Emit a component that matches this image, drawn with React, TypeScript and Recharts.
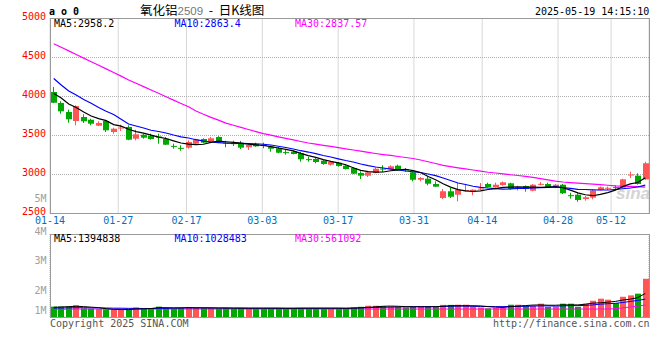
import { Bar, CartesianGrid, ComposedChart, Line, XAxis, YAxis } from "recharts";

// trading days shown, 01-14 .. 05-19
const dates = [
  "01-14", "01-15", "01-16", "01-17", "01-20", "01-21", "01-22", "01-23", "01-24", "01-27",
  "02-05", "02-06", "02-07", "02-10", "02-11", "02-12", "02-13", "02-14", "02-17",
  "02-18", "02-19", "02-20", "02-21", "02-24", "02-25", "02-26", "02-27", "02-28",
  "03-03", "03-04", "03-05", "03-06", "03-07", "03-10", "03-11", "03-12", "03-13", "03-14",
  "03-17", "03-18", "03-19", "03-20", "03-21", "03-24", "03-25", "03-26", "03-27", "03-28",
  "03-31", "04-01", "04-02", "04-03", "04-07", "04-08", "04-09", "04-10", "04-11",
  "04-14", "04-15", "04-16", "04-17", "04-18", "04-21", "04-22", "04-23", "04-24", "04-25",
  "04-28", "04-29", "04-30", "05-06", "05-07", "05-08", "05-09",
  "05-12", "05-13", "05-14", "05-15", "05-16", "05-19",
];

const opens = [
  4058, 3917, 3801, 3686, 3737, 3702, 3626, 3686, 3545, 3598,
  3609, 3459, 3510, 3494, 3487, 3459, 3367, 3342, 3344, 3395,
  3455, 3420, 3481, 3410, 3402, 3400, 3349, 3391, 3380, 3356,
  3336, 3287, 3292, 3272, 3197, 3199, 3177, 3126, 3151, 3113,
  3083, 3019, 2985, 3019, 3076, 3070, 3113, 3066, 3028, 2933,
  2946, 2878, 2699, 2785, 2741, 2790, 2785, 2808, 2878, 2836,
  2865, 2887, 2822, 2853, 2792, 2870, 2878, 2836, 2869, 2735,
  2741, 2686, 2703, 2801, 2825, 2838, 2831, 2995, 2985, 2938,
];

const closes = [
  3920, 3810, 3708, 3878, 3682, 3651, 3660, 3567, 3587, 3602,
  3446, 3515, 3472, 3455, 3480, 3382, 3363, 3338, 3417, 3446,
  3408, 3464, 3420, 3405, 3398, 3344, 3378, 3361, 3376, 3331,
  3279, 3283, 3263, 3195, 3193, 3160, 3135, 3160, 3109, 3070,
  3010, 2985, 3028, 3074, 3072, 3105, 3054, 3050, 2933, 2955,
  2882, 2844, 2785, 2715, 2805, 2800, 2805, 2820, 2840, 2869,
  2900, 2814, 2832, 2814, 2869, 2880, 2840, 2869, 2759, 2731,
  2673, 2708, 2792, 2836, 2830, 2834, 2938, 3000, 2878, 3144,
];

const highs = [
  4122, 3938, 3831, 3887, 3772, 3715, 3682, 3702, 3600, 3638,
  3631, 3574, 3523, 3523, 3523, 3480, 3395, 3374, 3438, 3459,
  3464, 3481, 3490, 3433, 3433, 3430, 3385, 3408, 3408, 3369,
  3356, 3314, 3305, 3292, 3228, 3210, 3185, 3165, 3160, 3120,
  3096, 3041, 3035, 3092, 3118, 3118, 3126, 3083, 3035, 2968,
  2977, 2913, 2814, 2827, 2891, 2878, 2810, 2891, 2895, 2895,
  2910, 2895, 2855, 2860, 2878, 2904, 2895, 2880, 2880, 2765,
  2759, 2725, 2810, 2845, 2845, 2862, 2945, 3036, 3015, 3164,
];

const lows = [
  3915, 3779, 3664, 3631, 3660, 3631, 3620, 3545, 3523, 3558,
  3440, 3438, 3459, 3446, 3395, 3378, 3331, 3305, 3331, 3390,
  3400, 3415, 3410, 3349, 3365, 3327, 3314, 3355, 3336, 3292,
  3272, 3254, 3258, 3164, 3164, 3143, 3125, 3113, 3100, 3065,
  3005, 2942, 2968, 3015, 3032, 3065, 3050, 3035, 2913, 2913,
  2861, 2840, 2686, 2699, 2656, 2780, 2733, 2800, 2835, 2830,
  2855, 2805, 2795, 2780, 2785, 2860, 2835, 2825, 2750, 2690,
  2651, 2665, 2682, 2795, 2800, 2810, 2825, 2955, 2870, 2930,
];

// moving averages (they start before 01-14)
const ma5 = [
  4038, 3981, 3904, 3859, 3800, 3750, 3716, 3690, 3640, 3620,
  3580, 3550, 3530, 3505, 3480, 3462, 3432, 3404, 3390, 3382,
  3388, 3412, 3427, 3420, 3412, 3402, 3390, 3380, 3372, 3358,
  3340, 3322, 3302, 3270, 3243, 3219, 3190, 3168, 3150, 3125,
  3086, 3053, 3036, 3030, 3032, 3048, 3060, 3067, 3050, 3025,
  2975, 2933, 2882, 2838, 2806, 2790, 2782, 2789, 2808, 2820,
  2834, 2838, 2842, 2838, 2840, 2835, 2838, 2842, 2830, 2800,
  2765, 2740, 2728, 2745, 2768, 2800, 2845, 2880, 2897, 2958,
];

const ma10 = [
  4231, 4147, 4070, 4019, 3961, 3913, 3859, 3810, 3769, 3708,
  3647, 3622, 3596, 3567, 3551, 3532, 3506, 3483, 3468, 3446,
  3429, 3417, 3408, 3401, 3400, 3400, 3397, 3394, 3388, 3378,
  3362, 3346, 3327, 3305, 3288, 3267, 3244, 3224, 3201, 3179,
  3160, 3135, 3113, 3096, 3083, 3070, 3058, 3045, 3035, 3026,
  3006, 2985, 2955, 2923, 2891, 2872, 2849, 2836, 2827, 2818,
  2812, 2814, 2821, 2823, 2827, 2831, 2836, 2844, 2833, 2821,
  2810, 2808, 2804, 2801, 2801, 2808, 2817, 2827, 2840, 2863,
];

const ma30 = [
  4677, 4631, 4585, 4538, 4492, 4446, 4400, 4354, 4308, 4261,
  4211, 4170, 4127, 4083, 4041, 3997, 3954, 3910, 3868, 3815,
  3772, 3733, 3697, 3658, 3631, 3604, 3577, 3550, 3524, 3504,
  3483, 3463, 3444, 3423, 3404, 3390, 3374, 3360, 3345, 3329,
  3314, 3299, 3283, 3269, 3256, 3244, 3231, 3218, 3205, 3186,
  3163, 3141, 3118, 3101, 3086, 3072, 3058, 3044, 3029, 3019,
  3009, 2997, 2987, 2977, 2964, 2947, 2931, 2914, 2904, 2897,
  2890, 2883, 2876, 2869, 2862, 2855, 2851, 2847, 2844, 2837,
];

// volume, thousands of lots
const volumes = [
  600, 600, 600, 680, 500, 480, 460, 440, 420, 420,
  440, 550, 520, 520, 600, 520, 500, 520, 580, 530,
  520, 520, 500, 520, 500, 520, 520, 500, 500, 500,
  520, 480, 520, 520, 520, 520, 500, 500, 500, 500,
  550, 590, 650, 650, 630, 600, 580, 550, 580, 620,
  620, 600, 700, 700, 710, 710, 610, 550, 500, 520,
  520, 710, 710, 650, 650, 770, 580, 600, 770, 770,
  590, 770, 940, 1060, 1000, 810, 1170, 1250, 1350, 2210,
];

const volMa5 = [
  560, 580, 600, 620, 600, 570, 540, 480, 440, 430,
  430, 460, 470, 490, 540, 540, 530, 530, 540, 530,
  530, 530, 520, 520, 510, 510, 510, 510, 510, 510,
  510, 500, 500, 510, 510, 510, 510, 510, 510, 500,
  510, 530, 560, 590, 620, 630, 620, 600, 590, 590,
  590, 600, 620, 650, 650, 650, 650, 640, 600, 570,
  550, 600, 630, 660, 690, 700, 680, 680, 700, 700,
  700, 740, 800, 820, 860, 900, 980, 1030, 1120, 1360,
];

const volMa10 = [
  520, 520, 530, 540, 540, 530, 530, 520, 510, 510,
  500, 500, 490, 490, 500, 500, 510, 520, 530, 530,
  530, 520, 520, 520, 520, 520, 510, 510, 510, 510,
  510, 510, 510, 510, 510, 510, 510, 510, 510, 510,
  520, 530, 540, 550, 560, 570, 580, 590, 600, 600,
  600, 600, 610, 620, 630, 630, 620, 610, 610, 600,
  600, 610, 610, 620, 630, 640, 640, 630, 640, 660,
  660, 670, 700, 740, 770, 790, 840, 900, 960, 1030,
];

const volMa30 = [
  450, 450, 450, 460, 460, 460, 460, 460, 460, 460,
  460, 460, 460, 460, 460, 460, 460, 460, 460, 460,
  460, 460, 460, 460, 460, 460, 460, 460, 460, 460,
  460, 460, 460, 460, 460, 460, 460, 460, 460, 460,
  460, 460, 460, 460, 460, 460, 460, 460, 460, 460,
  460, 460, 460, 460, 460, 460, 460, 460, 460, 460,
  460, 460, 460, 460, 460, 460, 460, 460, 460, 460,
  460, 460, 460, 460, 460, 480, 530, 580, 630, 690,
];

const dateTicks = ["01-14", "01-27", "02-17", "03-03", "03-17", "03-31", "04-14", "04-28", "05-12"];
const priceTicks = [2500, 3000, 3500, 4000, 4500, 5000];
const volGrid = [1200, 2400, 3600, 4800];

// sina spaces its date labels 7.6px a day, a bit wider than the candles
const LABEL_SLOTS = 78.8;

const UP = "#ff5555";
const DOWN = "#00a800";
const MONO = "'DejaVu Sans Mono', 'Liberation Mono', monospace";
const CJK = "'Noto Sans CJK SC', sans-serif";

const rows = dates.map((date, i) => ({
  date,
  open: opens[i],
  close: closes[i],
  high: highs[i],
  low: lows[i],
  ma5: ma5[i],
  ma10: ma10[i],
  ma30: ma30[i],
  vol: volumes[i],
  vma5: volMa5[i],
  vma10: volMa10[i],
  vma30: volMa30[i],
}));

const tickIdx = dateTicks.map((d) => dates.indexOf(d));

function Candle(props: any) {
  const { x, y, width, height, payload } = props;
  const { open, close, high, low } = payload;
  const top = Math.min(y, y + height);
  const h = Math.abs(height);
  const k = h / (high - low);
  const color = close >= open ? UP : DOWN;
  const yO = top + (high - open) * k;
  const yC = top + (high - close) * k;
  const bodyTop = Math.min(yO, yC);
  const bodyH = Math.max(1, Math.abs(yO - yC));
  const rx = Math.round(x);
  return (
    <g>
      <line x1={rx + 2.5} x2={rx + 2.5} y1={top} y2={top + h} stroke={color} strokeWidth={1} />
      <rect x={rx} y={bodyTop} width={width} height={bodyH} fill={color} />
    </g>
  );
}

function VolBar(props: any) {
  const { x, y, width, height, payload } = props;
  const color = payload.close >= payload.open ? UP : DOWN;
  return <rect x={Math.round(x)} y={y} width={width} height={height} fill={color} />;
}

function PriceTick(props: any) {
  const { x, y, payload } = props;
  return (
    <text x={x} y={y + 1.6} textAnchor="end" fill="#ff0000" fontSize={10} fontFamily={MONO}>
      {payload.value}
    </text>
  );
}

function DateTick(props: any) {
  const { x, y, payload } = props;
  return (
    <text x={x} y={y + 10.3} textAnchor="middle" fill="#0070c0" fontSize={10} fontFamily={MONO}>
      {dates[payload.value]}
    </text>
  );
}

function Txt({ left, top, color = "#000", children, style }: any) {
  return (
    <div
      style={{
        position: "absolute",
        left,
        top,
        color,
        fontFamily: MONO,
        fontSize: 10,
        lineHeight: "10px",
        whiteSpace: "pre",
        ...style,
      }}
    >
      {children}
    </div>
  );
}

// grey labels left of the volume panel, placed by their visual centre
function VolLabel({ center, children }: any) {
  return (
    <Txt
      left={0}
      top={center - 2.8}
      color="#a0a0a0"
      style={{ width: 46.5, textAlign: "right", lineHeight: "6px" }}
    >
      {children}
    </Txt>
  );
}

export default function App() {
  return (
    <div
      style={{
        position: "absolute",
        left: 0,
        top: 0,
        width: 660,
        height: 360,
        background: "#fff",
        overflow: "hidden",
      }}
    >
      {/* sina watermark */}
      <div
        style={{
          position: "absolute",
          left: 616,
          top: 185,
          color: "#d4d4d4",
          fontFamily: "'Liberation Sans', sans-serif",
          fontStyle: "italic",
          fontWeight: "bold",
          fontSize: 17,
          lineHeight: "17px",
        }}
      >
        sina
      </div>

      <div style={{ position: "absolute", left: 0, top: 0 }}>
        <ComposedChart
          width={660}
          height={230}
          data={rows}
          margin={{ top: 18.5, right: 11, bottom: 0, left: 0 }}
        >
          <CartesianGrid stroke="#b0b0b0" strokeDasharray="1 1" />
          <XAxis
            type="number"
            domain={[0, LABEL_SLOTS]}
            ticks={tickIdx}
            interval={0}
            height={16.5}
            axisLine={false}
            tickLine={false}
            tickSize={0}
            tickMargin={0}
            tick={<DateTick />}
            allowDataOverflow
          />
          <XAxis xAxisId="c" dataKey="date" type="category" hide />
          <YAxis
            domain={[2500, 5000]}
            ticks={priceTicks}
            interval={0}
            width={50}
            axisLine={false}
            tickLine={false}
            tickSize={0}
            tickMargin={4}
            tick={<PriceTick />}
            allowDataOverflow
          />
          <Bar
            xAxisId="c"
            dataKey={(d: any) => [d.low, d.high]}
            barSize={6}
            shape={(p: any) => <Candle {...p} />}
            isAnimationActive={false}
          />
          <Line xAxisId="c" dataKey="ma30" stroke="#ff00ff" strokeWidth={1.2} dot={false} isAnimationActive={false} />
          <Line xAxisId="c" dataKey="ma10" stroke="#0000ff" strokeWidth={1.2} dot={false} isAnimationActive={false} />
          <Line xAxisId="c" dataKey="ma5" stroke="#000000" strokeWidth={1.2} dot={false} isAnimationActive={false} />
        </ComposedChart>
      </div>

      <div style={{ position: "absolute", left: 0, top: 234.3 }}>
        <ComposedChart
          width={660}
          height={83}
          data={rows}
          margin={{ top: 0, right: 11, bottom: 0, left: 0 }}
        >
          <CartesianGrid stroke="#b0b0b0" strokeDasharray="1 1" />
          <XAxis
            type="number"
            domain={[0, LABEL_SLOTS]}
            ticks={tickIdx}
            interval={0}
            height={0}
            axisLine={false}
            tickLine={false}
            tick={false}
            allowDataOverflow
          />
          <XAxis xAxisId="c" dataKey="date" type="category" hide />
          <YAxis
            domain={[0, 4800]}
            ticks={volGrid}
            width={50}
            axisLine={false}
            tickLine={false}
            tick={false}
            allowDataOverflow
          />
          <Bar
            xAxisId="c"
            dataKey="vol"
            barSize={6}
            shape={(p: any) => <VolBar {...p} />}
            isAnimationActive={false}
          />
          <Line xAxisId="c" dataKey="vma30" stroke="#ff00ff" strokeWidth={1} dot={false} isAnimationActive={false} />
          <Line xAxisId="c" dataKey="vma10" stroke="#0000ff" strokeWidth={1} dot={false} isAnimationActive={false} />
          <Line xAxisId="c" dataKey="vma5" stroke="#000000" strokeWidth={1} dot={false} isAnimationActive={false} />
        </ComposedChart>
      </div>

      {/* panel frames */}
      <div
        style={{
          position: "absolute",
          left: 50,
          top: 18,
          width: 600,
          height: 196,
          border: "1px solid #999",
          boxSizing: "border-box",
        }}
      />
      <div
        style={{
          position: "absolute",
          left: 50,
          top: 234,
          width: 600,
          height: 84,
          border: "1px solid #999",
          boxSizing: "border-box",
        }}
      />

      {/* header */}
      <Txt left={49} top={7} style={{ fontWeight: "bold" }}>a o 0</Txt>
      <div
        style={{
          position: "absolute",
          left: 140,
          top: 3,
          fontFamily: CJK,
          fontSize: 12.5,
          lineHeight: "14px",
          whiteSpace: "pre",
          color: "#000",
        }}
      >
        氧化铝
        <span style={{ color: "#777", fontFamily: "'Liberation Sans', sans-serif", fontSize: 11.5 }}>2509</span>
        {"  -  "}
        日K线图
      </div>
      <Txt left={535} top={7}>2025-05-19 14:15:10</Txt>

      <Txt left={54} top={18.7}>MA5:2958.2</Txt>
      <Txt left={174.5} top={18.7} color="#0000ff">MA10:2863.4</Txt>
      <Txt left={295} top={18.7} color="#ff00ff">MA30:2837.57</Txt>

      <Txt left={54} top={234.2}>MA5:1394838</Txt>
      <Txt left={174.5} top={234.2} color="#0000ff">MA10:1028483</Txt>
      <Txt left={295} top={234.2} color="#ff00ff">MA30:561092</Txt>

      <VolLabel center={199}>5M</VolLabel>
      <VolLabel center={232}>4M</VolLabel>
      <VolLabel center={260.7}>3M</VolLabel>
      <VolLabel center={291}>2M</VolLabel>
      <VolLabel center={310.7}>1M</VolLabel>

      <Txt left={50} top={319.2} color="#555">Copyright 2025 SINA.COM</Txt>
      <Txt left={493} top={319.2} color="#555">http://finance.sina.com.cn</Txt>
    </div>
  );
}
